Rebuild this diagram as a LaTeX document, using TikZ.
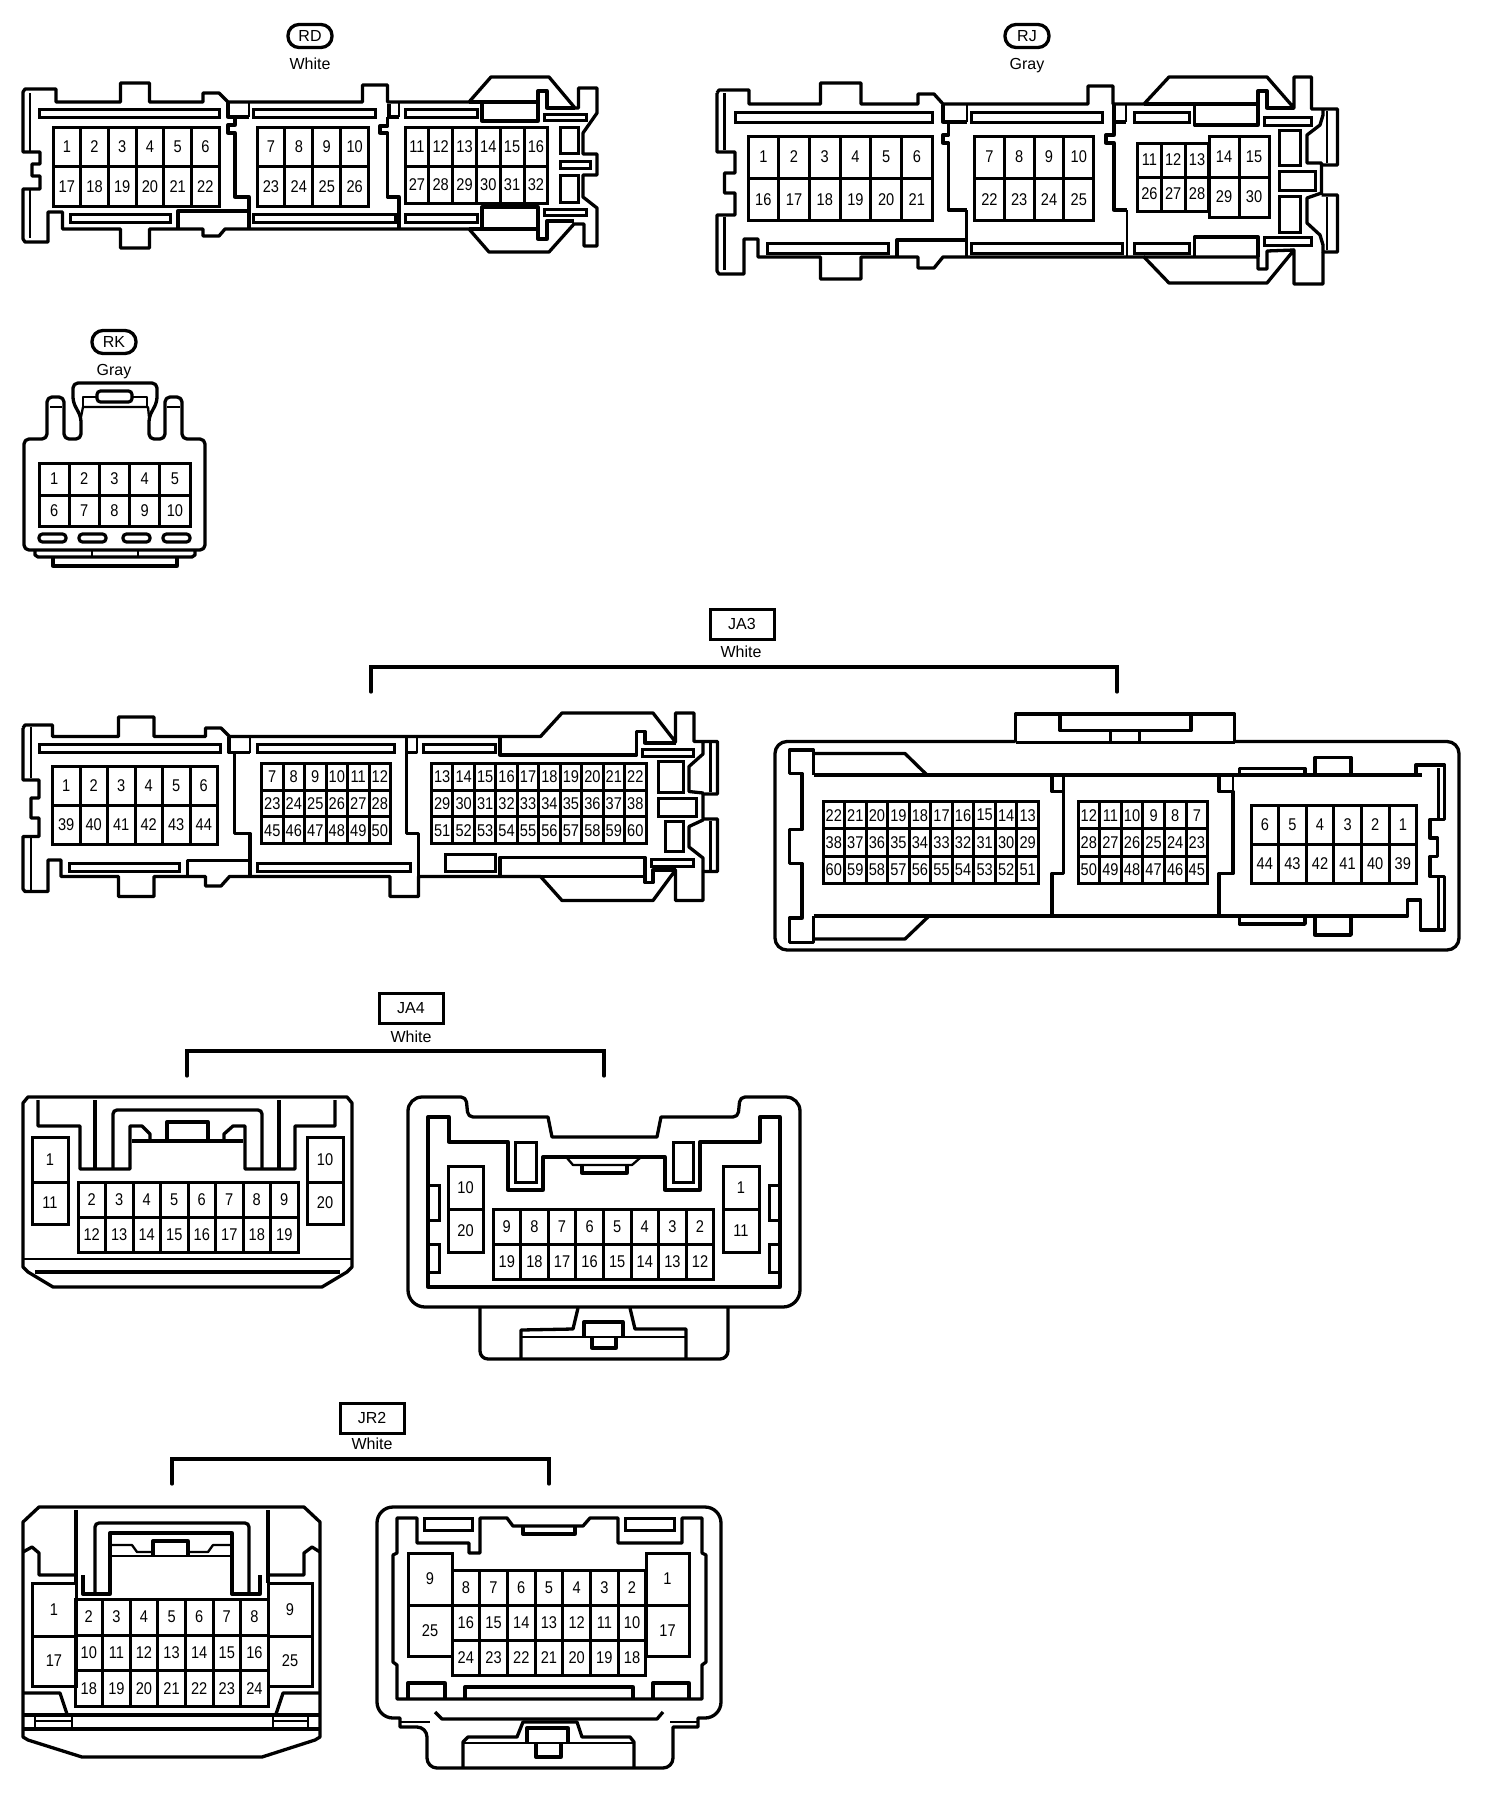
\documentclass[tikz,border=0pt]{standalone}
\usepackage{fontspec}
\newfontfamily\pinfont[FakeStretch=0.86]{Liberation Sans}
\newfontfamily\tagfont{Liberation Sans}
\tikzset{
    shell/.style = {line width=3.3pt,line join=round},
    wall/.style = {line width=2.3pt,line join=round},
    slot/.style = {line width=3pt},
    pill/.style = {line width=3.2pt,rounded corners=3.5pt},
    pincell/.style = {rectangle,draw=black,line width=3pt,inner sep=0pt,outer sep=0pt,font=\pinfont\fontsize{17}{17}\selectfont},
    tagoval/.style = {rectangle,draw=black,line width=3.3pt,rounded corners=11pt,minimum width=44pt,minimum height=23pt,inner sep=0pt,font=\tagfont\fontsize{16}{16}\selectfont},
    tagbox/.style = {rectangle,draw=black,line width=3pt,minimum width=64pt,minimum height=30pt,inner sep=0pt,font=\tagfont\fontsize{16}{16}\selectfont},
    colorlabel/.style = {inner sep=0pt,font=\tagfont\fontsize{16}{16}\selectfont},
    bracket/.style = {line width=3.3pt,line cap=round}
}
% prefix, left, top, cell width, cell height, numbers
\newcommand{\pinrow}[6]{%
  \foreach \n [count=\i from 0] in {#6}
    \node[pincell,minimum width=#4pt,minimum height=#5pt] (#1\n) at ({#2+(\i+.5)*#4},{#3+.5*#5}) {\n};
}
\begin{document}
\begin{tikzpicture}[x=1pt,y=-1pt]
\useasboundingbox (0,0) rectangle (1504,1796);
%
% RD
\node[tagoval] at (310,36) (rdtag) {RD};
\node[colorlabel] at (310,64) (rdcolor) {White};
\draw[shell] (23,92) -- (25,89) -- (56,89) -- (56,102) -- (120.5,102) -- (120.5,83) -- (149.5,83) -- (149.5,102) -- (203,102) -- (203,93) -- (219,93) -- (228,102) -- (362.5,102) -- (362.5,85) -- (387.5,85) -- (387.5,102) -- (469,102) -- (491,77) -- (549,77) -- (575,108) -- (578.5,108) -- (578.5,88) -- (597,88) -- (597,113) -- (583,133) -- (583,154) -- (597,154) -- (597,175) -- (583,175) -- (583,197) -- (597,208) -- (597,246) -- (584,246) -- (584,224) -- (574,224) -- (549,252) -- (489,252) -- (469,229) -- (225,229) -- (219,236) -- (203,236) -- (203,229) -- (149.5,229) -- (149.5,248) -- (120.5,248) -- (120.5,229) -- (62.5,229) -- (62.5,212) -- (48,212) -- (48,242) -- (25,242) -- (23,239) -- (23,189) -- (40,189) -- (40,176) -- (32,176) -- (32,164) -- (40,164) -- (40,152) -- (23,152) -- cycle;
\draw[shell] (469,102) -- (538,102) (469,229) -- (538,229);
\draw[wall] (30,93) -- (30,152) (30,189) -- (30,238);
\foreach \a/\b/\c/\d in {39/109/219/117,253.5/109/375/117,405/109/477/117,70.5/214/170/222,253.5/214/395/222,405/214/477/222,544/114/586/120,544/209/586/215,560/127/578/153,560/161/590/168,560/175/578/202}
  \draw[slot] (\a,\b) rectangle (\c,\d);
\draw[shell] (228,102) -- (228,117) -- (249,117);
\draw[shell] (228,117) -- (235,117) -- (235,125) -- (228,125) -- (228,133) -- (235,133) -- (235,197) -- (249,197) -- (249,229);
\draw[wall] (249,102) -- (249,117);
\draw[shell] (389,104) -- (389,117) -- (399,117);
\draw[wall] (399,102) -- (399,117);
\draw[shell] (387.5,117) -- (387.5,126) -- (380,126) -- (380,133) -- (387.5,133) -- (387.5,197) -- (399,197) -- (399,229);
\draw[shell] (178,229) -- (178,211) -- (249,211);
\draw[shell] (482,102) -- (482,121) -- (538,121) -- (538,91) -- (547,91) -- (547,108) -- (575,108);
\draw[shell] (482,229) -- (482,207) -- (538,207) -- (538,239) -- (547,239) -- (547,221) -- (574,221);
\pinrow{rd}{53}{127}{27.7}{39.5}{1,2,3,4,5,6}
\pinrow{rd}{53}{166.5}{27.7}{39.5}{17,18,19,20,21,22}
\pinrow{rd}{257}{127}{27.9}{39.5}{7,8,9,10}
\pinrow{rd}{257}{166.5}{27.9}{39.5}{23,24,25,26}
\pinrow{rd}{405}{127}{23.8}{39}{11,12,13,14,15,16}
\pinrow{rd}{405}{166}{23.8}{37}{27,28,29,30,31,32}
%
% RJ
\node[tagoval] at (1027,36) (rjtag) {RJ};
\node[colorlabel] at (1027,66) (rjcolor) {Gray};
\draw[shell] (717,93) -- (719,90) -- (749,90) -- (749,104) -- (820.5,104) -- (820.5,83) -- (861,83) -- (861,104) -- (918,104) -- (918,94) -- (934,94) -- (943,104) -- (1088,104) -- (1088,86) -- (1113,86) -- (1113,104) -- (1144,104) -- (1169,77) -- (1267,77) -- (1294,108) -- (1294,77) -- (1311.5,77) -- (1311.5,109) -- (1337.5,109) -- (1337.5,165) -- (1321.5,165) -- (1321.5,163) -- (1307,163) -- (1307,135) -- (1320,125) -- (1323,115) -- (1323,109);
\draw[shell] (1321.5,163) -- (1321.5,193) -- (1307,198) -- (1307,223) -- (1320,235) -- (1323,245) -- (1323,252) -- (1337.5,252) -- (1337.5,195) -- (1321.5,195);
\draw[shell] (1323,252) -- (1323,284) -- (1294,284) -- (1294,250) -- (1267,283) -- (1169,283) -- (1144,257) -- (943,257) -- (934,268) -- (918,268) -- (918,257) -- (861,257) -- (861,279) -- (820.5,279) -- (820.5,257) -- (758,257) -- (758,239) -- (744,239) -- (744,274) -- (719,274) -- (717,271) -- (717,215) -- (735,215) -- (735,193) -- (724.5,193) -- (724.5,173) -- (735,173) -- (735,152) -- (717,152) -- (717,93);
\draw[shell] (1144,257) -- (1258,257) -- (1258,269) -- (1267,269) -- (1267,251) -- (1294,250);
\draw[shell] (1144,104) -- (1258,104);
\draw[wall] (724.5,93) -- (724.5,150) (724.5,217) -- (724.5,270) (1327,111) -- (1327,163) (1327,197) -- (1327,250);
\foreach \a/\b/\c/\d in {735/112/932/122,971/112/1102/122,1134/112/1189/122,767/243/888/253,971/243/1122/253,1134/243/1189/253,1264/117/1311/125,1264/237/1311/245,1279/130/1300/165,1279/171/1315/190,1279/196/1300/232}
  \draw[slot] (\a,\b) rectangle (\c,\d);
\draw[shell] (943,105) -- (943,122) -- (967,122);
\draw[wall] (967,104) -- (967,122);
\draw[shell] (948.5,122) -- (948.5,135) -- (943,135) -- (943,143) -- (948.5,143) -- (948.5,210) -- (966.5,210);
\draw[wall] (966.5,210) -- (966.5,257);
\draw[shell] (1114,105) -- (1114,122) -- (1126,122);
\draw[wall] (1126,104) -- (1126,122);
\draw[shell] (1114,122) -- (1114,135) -- (1106,135) -- (1106,143) -- (1114,143) -- (1114,210) -- (1127,210);
\draw[wall] (1127,210) -- (1127,257);
\draw[shell] (897,257) -- (897,240) -- (966.5,240);
\draw[shell] (1194.5,104) -- (1194.5,125) -- (1258,125) -- (1258,91) -- (1267,91) -- (1267,108) -- (1294,108);
\draw[shell] (1194.5,257) -- (1194.5,237) -- (1258,237) -- (1258,257);
\pinrow{rj}{748}{136}{30.7}{42}{1,2,3,4,5,6}
\pinrow{rj}{748}{178}{30.7}{42.5}{16,17,18,19,20,21}
\pinrow{rj}{974.5}{136}{29.8}{42}{7,8,9,10}
\pinrow{rj}{974.5}{178}{29.8}{42.5}{22,23,24,25}
\pinrow{rj}{1137.5}{143}{23.8}{34}{11,12,13}
\pinrow{rj}{1137.5}{177}{23.8}{34}{26,27,28}
\pinrow{rj}{1209}{136}{30}{41}{14,15}
\pinrow{rj}{1209}{177}{30}{40}{29,30}
%
% RK
\node[tagoval] at (114,342) (rktag) {RK};
\node[colorlabel] at (114,372) (rkcolor) {Gray};
\draw[shell,rounded corners=5pt] (24,452) -- (24,439) -- (47,439) -- (47,397) -- (64,397) -- (64,439) -- (81,439) -- (81,417) -- (73,402) -- (73,383) -- (157,383) -- (157,402) -- (149,417) -- (149,439) -- (165,439) -- (165,397) -- (182,397) -- (182,439) -- (205,439) -- (205,550) -- (24,550) -- cycle;
\draw[wall] (50,407) -- (62,407) (167,407) -- (180,407);
\draw[wall] (81,417) -- (83,407) -- (148,407) -- (149,417);
\draw[wall] (83,407) -- (83,397) -- (97,397) (132,397) -- (147,397) -- (147,407);
\draw[pill] (97,391) rectangle (132,402);
\foreach \a in {39,79,123,163}
  \draw[pill] (\a,534) rectangle +(27,8);
\draw[shell] (35,550) -- (35,555) -- (38,557) -- (192,557) -- (195,555) -- (195,550);
\draw[wall] (92,550) -- (92,557) (138,550) -- (138,557);
\draw[shell] (53,557) -- (53,566) -- (177,566) -- (177,557);
\pinrow{rk}{39}{463}{30.2}{32}{1,2,3,4,5}
\pinrow{rk}{39}{495}{30.2}{31}{6,7,8,9,10}
%
% JA3
\node[tagbox] at (742,624) (jaboxa) {JA3};
\node[colorlabel] at (741,652) (jacolora) {White};
\coordinate (jaleft) at (371,692);
\coordinate (jaright) at (1117,692);
\draw[bracket] (jaleft) -- ++(0,-25) -| (jaright);
% JA3 left half
\draw[shell] (23,728) -- (25,725) -- (52.5,725) -- (52.5,736.5) -- (118.5,736.5) -- (118.5,717) -- (154,717) -- (154,736.5) -- (205.5,736.5) -- (205.5,728) -- (221,728) -- (229.5,736.5) -- (540.5,736.5) -- (562,713) -- (653,713) -- (675.5,742) -- (675.5,713) -- (694,713) -- (694,741.5) -- (717.5,741.5) -- (717.5,794) -- (703,794) -- (703,793) -- (689,791.5) -- (689,766.5) -- (703,754) -- (703,741.5);
\draw[shell] (703,794) -- (703,820) -- (689,826.5) -- (689,847) -- (703,858) -- (703,871.5) -- (717.5,871.5) -- (717.5,819) -- (703,819);
\draw[shell] (703,871.5) -- (703,900.5) -- (675.5,900.5) -- (675.5,870) -- (653,900.5) -- (562,900.5) -- (540.5,876.5) -- (418.5,876.5) -- (418.5,896.5) -- (390,896.5) -- (390,876.5) -- (229.5,876.5) -- (221,886) -- (205.5,886) -- (205.5,876.5) -- (154,876.5) -- (154,896.5) -- (118.5,896.5) -- (118.5,876.5) -- (61,876.5) -- (61,860) -- (48,860) -- (48,891.5) -- (25,891.5) -- (23,889) -- (23,836.5) -- (39,836.5) -- (39,818) -- (31,818) -- (31,798) -- (39,798) -- (39,780) -- (23,780) -- (23,728);
\draw[wall] (31,727) -- (31,778) (31,838) -- (31,890) (710.5,743) -- (710.5,792) (710.5,821) -- (710.5,870);
\foreach \a/\b/\c/\d in {39/744/220/752.5,257.5/744/394.5/752.5,423.5/744/495/752.5,69.5/863.5/179.5/871.5,257.5/863.5/410.5/871.5,445/854/495/871.5,642/749/693/756,651/859/693/866,658/761.5/683/792.5,658/798/696/816,665/821.5/683/851.5}
  \draw[slot] (\a,\b) rectangle (\c,\d);
\draw[shell] (229,737) -- (229,752.5) -- (250,752.5);
\draw[wall] (250,736.5) -- (250,752.5);
\draw[shell] (234.5,752.5) -- (234.5,833.5) -- (250,833.5) -- (250,876.5);
\draw[shell] (406.5,737) -- (406.5,833.5) -- (418.5,833.5) -- (418.5,876.5);
\draw[wall] (417,736.5) -- (417,752.5) -- (406.5,752.5);
\draw[shell] (187.5,876.5) -- (187.5,860.5) -- (250,860.5);
\draw[shell] (500,736.5) -- (500,755) -- (636.5,755) -- (636.5,731.5) -- (645,731.5) -- (645,743) -- (675.5,743);
\draw[shell] (500,876.5) -- (500,857.5) -- (645,857.5) -- (645,882.5) -- (653,882.5) -- (653,870) -- (675.5,870);
\draw[shell] (540.5,876.5) -- (645,876.5);
\pinrow{jal}{52.5}{766}{27.5}{39}{1,2,3,4,5,6}
\pinrow{jal}{52.5}{805}{27.5}{39}{39,40,41,42,43,44}
\pinrow{jal}{261.5}{763.5}{21.5}{26.7}{7,8,9,10,11,12}
\pinrow{jal}{261.5}{790.2}{21.5}{26.7}{23,24,25,26,27,28}
\pinrow{jal}{261.5}{816.9}{21.5}{26.7}{45,46,47,48,49,50}
\pinrow{jal}{431.5}{763.5}{21.45}{26.7}{13,14,15,16,17,18,19,20,21,22}
\pinrow{jal}{431.5}{790.2}{21.45}{26.7}{29,30,31,32,33,34,35,36,37,38}
\pinrow{jal}{431.5}{816.9}{21.45}{26.7}{51,52,53,54,55,56,57,58,59,60}
% JA3 right half
\draw[shell,rounded corners=12pt] (1015.5,741.5) -- (775,741.5) -- (775,950) -- (1459,950) -- (1459,741.5) -- (1234.5,741.5);
\draw[shell] (1015.5,741.5) -- (1015.5,714) -- (1234.5,714) -- (1234.5,741.5);
\draw[wall] (1015.5,742.5) -- (1234.5,742.5);
\draw[shell] (1060,714) -- (1060,730.5) -- (1191,730.5) -- (1191,714);
\draw[wall] (1110.5,730.5) -- (1110.5,741.5) (1139.5,730.5) -- (1139.5,741.5);
\draw[shell] (813.5,775) -- (1422,775);
\draw[shell] (813.5,916) -- (1407.5,916) -- (1407.5,900) -- (1420.5,900) -- (1420.5,930) -- (1444.5,930) -- (1444.5,876.5) -- (1430,876.5) -- (1430,856.5) -- (1437.5,856.5) -- (1437.5,838) -- (1430,838) -- (1430,819.5) -- (1444.5,819.5) -- (1444.5,765) -- (1416,765) -- (1416,775);
\draw[shell] (813.5,775) -- (813.5,750) -- (789.5,750) -- (789.5,773.5) -- (802,773.5) -- (802,829.5) -- (789.5,829.5) -- (789.5,863.5) -- (802,863.5) -- (802,918) -- (789.5,918) -- (789.5,942.5) -- (813.5,942.5) -- (813.5,916);
\draw[shell] (813.5,753.5) -- (905,753.5) -- (927,775);
\draw[shell] (813.5,939) -- (905,939) -- (929,916);
\draw[wall] (1438.5,768) -- (1438.5,818) (1438.5,878) -- (1438.5,928);
\draw[shell] (1052,775) -- (1052,791.5) -- (1063.5,791.5) -- (1063.5,873.5) -- (1052,873.5) -- (1052,916);
\draw[wall] (1063.5,775) -- (1063.5,791.5);
\draw[shell] (1219,775) -- (1219,791.5) -- (1233,791.5) -- (1233,873.5) -- (1219,873.5) -- (1219,916);
\draw[wall] (1233,775) -- (1233,791.5);
\draw[shell] (1239.5,775) -- (1239.5,768.5) -- (1305,768.5) -- (1305,775);
\draw[shell] (1315,775) -- (1315,757.5) -- (1351,757.5) -- (1351,775);
\draw[shell] (1239.5,916) -- (1239.5,924) -- (1305,924) -- (1305,916);
\draw[shell] (1315,916) -- (1315,935) -- (1351,935) -- (1351,916);
\pinrow{jar}{823}{801.5}{21.55}{27.4}{22,21,20,19,18,17,16,15,14,13}
\pinrow{jar}{823}{828.9}{21.55}{27.4}{38,37,36,35,34,33,32,31,30,29}
\pinrow{jar}{823}{856.3}{21.55}{27.4}{60,59,58,57,56,55,54,53,52,51}
\pinrow{jar}{1078}{801.5}{21.6}{27.4}{12,11,10,9,8,7}
\pinrow{jar}{1078}{828.9}{21.6}{27.4}{28,27,26,25,24,23}
\pinrow{jar}{1078}{856.3}{21.6}{27.4}{50,49,48,47,46,45}
\pinrow{jar}{1251}{805}{27.6}{39}{6,5,4,3,2,1}
\pinrow{jar}{1251}{844}{27.6}{39}{44,43,42,41,40,39}
%
% JA4
\node[tagbox] at (411,1008) (jaboxb) {JA4};
\node[colorlabel] at (411,1037) (jacolorb) {White};
\coordinate (jbleft) at (187,1076);
\coordinate (jbright) at (604,1076);
\draw[bracket] (jbleft) -- ++(0,-25) -| (jbright);
% JA4 left half
\draw[shell] (23,1103) -- (28,1097) -- (347,1097) -- (352,1103) -- (352,1267) -- (347,1272) -- (322,1287) -- (53,1287) -- (28,1272) -- (23,1267) -- cycle;
\draw[wall] (23,1259) -- (352,1259);
\draw[shell] (35,1272) -- (340,1272);
\draw[shell] (38,1100) -- (38,1126) -- (80,1126) -- (80,1169) -- (130,1169) -- (130,1126) -- (142,1126) -- (150,1134) -- (150,1141);
\draw[shell] (335,1100) -- (335,1126) -- (295,1126) -- (295,1169) -- (245,1169) -- (245,1126) -- (233,1126) -- (224,1134) -- (224,1141);
\draw[shell] (132,1141) -- (243,1141);
\draw[shell] (167,1141) -- (167,1122) -- (208,1122) -- (208,1141);
\draw[shell] (95,1100) -- (95,1169);
\draw[shell] (279,1100) -- (279,1169);
\draw[shell,rounded corners=4pt] (113,1169) -- (113,1110) -- (262,1110) -- (262,1169);
\pinrow{jbl}{78}{1182}{27.5}{35}{2,3,4,5,6,7,8,9}
\pinrow{jbl}{78}{1217}{27.5}{35}{12,13,14,15,16,17,18,19}
\pinrow{jbl}{32}{1137}{36}{45}{1}
\pinrow{jbl}{32}{1182}{36}{42}{11}
\pinrow{jbl}{307}{1137}{36}{45}{10}
\pinrow{jbl}{307}{1182}{36}{42}{20}
% JA4 right half
\draw[shell] (408,1200) [rounded corners=14pt] -- (408,1097) [rounded corners=5pt] -- (466,1097) -- (468,1117) [sharp corners] -- (548,1117) -- (552,1137) -- (657,1137) -- (661,1117) [rounded corners=5pt] -- (738,1117) -- (740,1097) [rounded corners=14pt] -- (800,1097) [rounded corners=17pt] -- (800,1307) -- (408,1307) -- cycle;
\draw[shell] (428,1117) -- (449,1117) -- (449,1142) -- (508,1142) -- (508,1190) -- (543,1190) -- (543,1157) -- (665,1157) -- (665,1190) -- (700,1190) -- (700,1142) -- (760,1142) -- (760,1117) -- (780,1117) -- (780,1287) -- (428,1287) -- cycle;
\foreach \a/\b/\c/\d in {515/1142/536/1182,673/1142/693/1182,428/1185/439/1220,428/1244/439/1272,769/1185/780/1220,769/1244/780/1272}
  \draw[slot] (\a,\b) rectangle (\c,\d);
\draw[wall] (567,1158) -- (573,1165) -- (632,1165) -- (640,1158);
\draw[shell] (582,1165) -- (582,1173) -- (627,1173) -- (627,1165);
\pinrow{jbr}{493}{1209}{27.6}{35}{9,8,7,6,5,4,3,2}
\pinrow{jbr}{493}{1244}{27.6}{35}{19,18,17,16,15,14,13,12}
\pinrow{jbr}{448}{1166}{35}{43.5}{10}
\pinrow{jbr}{448}{1209.5}{35}{42.5}{20}
\pinrow{jbr}{723}{1166}{36}{43.5}{1}
\pinrow{jbr}{723}{1209.5}{36}{42.5}{11}
\draw[shell,rounded corners=8pt] (480,1307) -- (480,1359) -- (728,1359) -- (728,1307);
\draw[shell] (521,1359) -- (521,1330) -- (573,1329) -- (578,1308);
\draw[shell] (630,1308) -- (635,1329) -- (686,1329) -- (686,1359);
\draw[wall] (521,1337) -- (686,1337);
\draw[shell] (584,1337) -- (584,1322) -- (623,1322) -- (623,1337);
\draw[shell] (592,1337) -- (592,1348) -- (616,1348) -- (616,1337);
%
% JR2
\node[tagbox] at (372,1418) (jrbox) {JR2};
\node[colorlabel] at (372,1444) (jrcolor) {White};
\coordinate (jrleft) at (172,1484);
\coordinate (jrright) at (549,1484);
\draw[bracket] (jrleft) -- ++(0,-25) -| (jrright);
% JR2 left half
\draw[shell] (23,1522) -- (39,1507) -- (304,1507) -- (320,1522) -- (320,1737) -- (315,1740) -- (262,1757) -- (82,1757) -- (28,1740) -- (23,1737) -- cycle;
\draw[shell] (23,1715) -- (320,1715);
\draw[shell] (23,1729) -- (320,1729);
\draw[shell] (23,1552) -- (32,1547) -- (39,1553) -- (39,1575) -- (76,1575);
\draw[shell] (320,1552) -- (312,1547) -- (304,1553) -- (304,1575) -- (268,1575);
\draw[shell] (76,1510) -- (76,1583);
\draw[shell] (268,1510) -- (268,1583);
\draw[shell] (83,1575) -- (83,1594) -- (110,1594) -- (110,1533) -- (232,1533) -- (232,1594) -- (260,1594) -- (260,1575);
\draw[shell,rounded corners=4pt] (95,1594) -- (95,1523) -- (249,1523) -- (249,1594);
\draw[wall] (110,1545) -- (132,1545) -- (137,1552) -- (153,1552) (188,1552) -- (208,1552) -- (213,1545) -- (232,1545);
\draw[wall] (110,1556) -- (232,1556);
\draw[shell] (153,1556) -- (153,1541) -- (188,1541) -- (188,1556);
\draw[shell] (23,1693) -- (60,1693) -- (67,1714);
\draw[shell] (320,1693) -- (283,1693) -- (276,1714);
\draw[wall] (35,1715) -- (35,1729) (72,1715) -- (72,1729) (36,1721) -- (72,1721) (273,1715) -- (273,1729) (308,1715) -- (308,1729) (273,1721) -- (307,1721);
\pinrow{jrl}{75}{1599}{27.6}{36}{2,3,4,5,6,7,8}
\pinrow{jrl}{75}{1635}{27.6}{35.5}{10,11,12,13,14,15,16}
\pinrow{jrl}{75}{1670.5}{27.6}{35.5}{18,19,20,21,22,23,24}
\pinrow{jrl}{32}{1583}{44}{53}{1}
\pinrow{jrl}{32}{1636}{44}{50}{17}
\pinrow{jrl}{268}{1583}{44}{53}{9}
\pinrow{jrl}{268}{1636}{44}{50}{25}
% JR2 right half
\draw[shell] (377,1600) [rounded corners=16pt] -- (377,1507) -- (721,1507) -- (721,1718) [sharp corners] -- (698,1718) -- (698,1727) -- (673,1727) [rounded corners=10pt] -- (673,1768) -- (427,1768) -- (427,1727) [sharp corners] -- (400,1727) -- (400,1718) [rounded corners=16pt] -- (377,1718) -- cycle;
\draw[shell] (435,1712) -- (442,1719) -- (657,1719) -- (663,1712);
\draw[wall] (400,1722) -- (430,1722) (670,1722) -- (698,1722);
\draw[shell] (397,1518) -- (417,1518) -- (417,1543) -- (469,1543) -- (469,1553) -- (480,1553) -- (480,1518) -- (507,1518) -- (513,1526) -- (583,1526) -- (590,1518) -- (618,1518) -- (618,1543) -- (682,1543) -- (682,1518) -- (702,1518) -- (702,1553) -- (706,1555) -- (706,1662) -- (702,1665) -- (702,1699) -- (397,1699) -- (397,1665) -- (393,1662) -- (393,1555) -- (397,1553) -- cycle;
\foreach \a/\b/\c/\d in {424/1518/472/1530,625/1518/674/1530}
  \draw[slot] (\a,\b) rectangle (\c,\d);
\draw[shell] (523,1527) -- (523,1534) -- (575,1534) -- (575,1527);
\draw[shell] (408,1699) -- (408,1683) -- (445,1683) -- (445,1699);
\draw[shell] (465,1699) -- (465,1687) -- (633,1687) -- (633,1699);
\draw[shell] (653,1699) -- (653,1683) -- (689,1683) -- (689,1699);
\pinrow{jrr}{452}{1570}{27.7}{35}{8,7,6,5,4,3,2}
\pinrow{jrr}{452}{1605}{27.7}{35}{16,15,14,13,12,11,10}
\pinrow{jrr}{452}{1640}{27.7}{35}{24,23,22,21,20,19,18}
\pinrow{jrr}{408}{1553}{44}{52}{9}
\pinrow{jrr}{408}{1605}{44}{51}{25}
\pinrow{jrr}{646}{1553}{43}{52}{1}
\pinrow{jrr}{646}{1605}{43}{51}{17}
\draw[shell] (463,1767) -- (463,1742) -- (468,1737) -- (517,1737) -- (523,1722) -- (577,1722) -- (582,1737) -- (630,1737) -- (634,1742) -- (634,1767);
\draw[wall] (463,1743) -- (634,1743);
\draw[shell] (527,1743) -- (527,1728) -- (568,1728) -- (568,1743);
\draw[shell] (536,1743) -- (536,1757) -- (561,1757) -- (561,1743);
\end{tikzpicture}
\end{document}
